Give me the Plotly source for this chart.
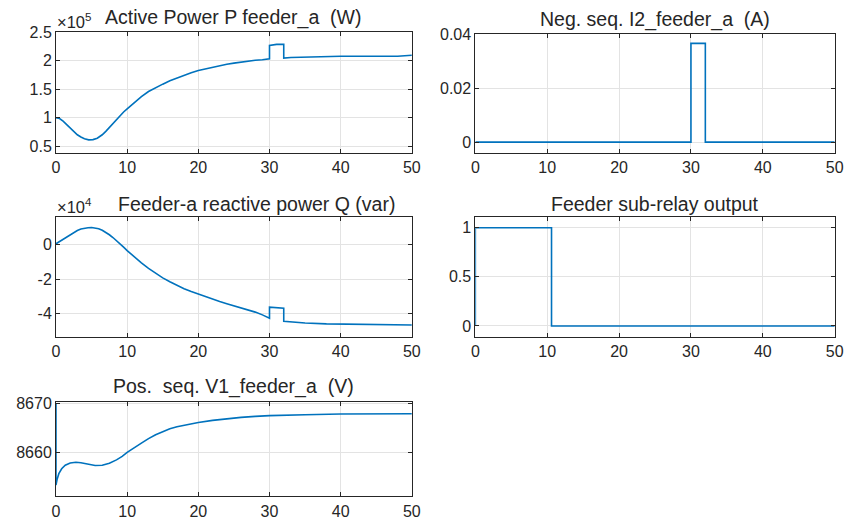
import plotly.graph_objects as go

W, H = 847, 522

# ---------------- data ----------------
t_P = [0, 0.5, 1, 1.5, 2, 2.5, 3, 3.5, 4, 4.6, 5.2, 5.8, 6.5, 7, 7.5, 8, 8.5, 9, 9.5, 10, 11, 12, 13, 14,
       15, 16, 17, 18, 19, 20, 21, 22, 23, 24, 25, 26, 27, 28, 29, 30,
       30, 31, 32, 32, 33, 36, 40, 45, 48, 50]
P_W = [100000, 98500, 94000, 88000, 81000, 75500, 70000, 66000, 63000, 61000, 61500, 64000, 70000, 76000,
       83000, 90000, 97000, 104000, 110000, 115500, 127000, 137000, 146000, 153000, 159000, 165000, 170000,
       174500, 179000, 183000, 186000, 189000, 191500, 194000, 196000, 198000, 199500, 201000, 202000, 203500,
       227000, 229000, 229000, 205000, 206000, 207000, 208000, 208000, 208000, 210000]

t_I2 = [0, 30, 30, 32, 32, 50]
I2_A = [0, 0, 0.0365, 0.0365, 0, 0]

t_Q = [0, 0.5, 1, 1.5, 2, 2.5, 3, 3.5, 4, 4.5, 5, 5.5, 6, 6.5, 7, 7.5, 8, 8.5, 9, 9.5, 10, 11, 12, 13, 14,
       15, 16, 17, 18, 19, 20, 21, 22, 23, 24, 25, 26, 27, 28, 29, 30,
       30, 31, 32, 32, 35, 38, 42, 45, 50]
Q_var = [500, 1800, 3200, 4600, 6000, 7200, 8200, 9000, 9500, 9800, 9900, 9700, 9200, 8300, 7100, 5700, 4100,
         2400, 500, -1500, -3500, -7200, -10600, -13800, -16700, -19300, -21600, -23700, -25600, -27300,
         -28800, -30300, -31700, -33000, -34300, -35500, -36700, -37900, -39200, -40800, -42800,
         -36300, -36600, -37000, -44500, -45500, -46000, -46300, -46600, -46700]

t_relay = [0, 0, 10.6, 10.6, 50]
relay_out = [0, 1, 1, 0, 0]

t_V1 = [0, 0, 0.15, 0.4, 0.8, 1.3, 2, 2.8, 3.5, 4.5, 5.5, 6.5, 7.5, 8.5, 9.3, 10, 11, 12, 13, 14, 15, 16,
        17, 18, 19, 20, 22, 24, 26, 28, 30, 35, 40, 50]
V1_V = [8669.8, 8653.4, 8654.5, 8655.7, 8656.7, 8657.4, 8657.85, 8658.0, 8657.9, 8657.6, 8657.35, 8657.4,
        8657.8, 8658.5, 8659.2, 8660.0, 8661.0, 8661.9, 8662.8, 8663.6, 8664.2, 8664.8, 8665.2, 8665.5,
        8665.8, 8666.05, 8666.5, 8666.85, 8667.1, 8667.3, 8667.45, 8667.65, 8667.8, 8667.85]

x_ticks = [0, 10, 20, 30, 40, 50]
P_ticks = [50000, 100000, 150000, 200000, 250000]
P_ticktext = ["0.5", "1", "1.5", "2", "2.5"]
I2_ticks = [0, 0.02, 0.04]
I2_ticktext = ["0", "0.02", "0.04"]
Q_ticks = [-40000, -20000, 0]
Q_ticktext = ["-4", "-2", "0"]
relay_ticks = [0, 0.5, 1]
relay_ticktext = ["0", "0.5", "1"]
V1_ticks = [8660, 8670]
V1_ticktext = ["8660", "8670"]

titles = ["Active Power P feeder_a  (W)", "Neg. seq. I2_feeder_a  (A)",
          "Feeder-a reactive power Q (var)", "Feeder sub-relay output",
          "Pos.  seq. V1_feeder_a  (V)"]

# ---------------- layout helpers ----------------
FONT = "Liberation Sans, Arial, Helvetica, sans-serif"
TXT = "#262626"
LINE = "#0072BD"
GRID = "#e3e3e3"

# compensation for the observed placement of the drawing in the photographed page
SC, OX, OY = 0.985, 4.0, 7.5


def fx(px):
    return ((px - OX) / SC) / W


def fy(py):
    return 1 - ((py - OY) / SC) / H


panels = [
    dict(x=(56, 412), y=(32, 153), t=t_P, v=P_W, yr=[37600, 250000], tv=P_ticks, tt=P_ticktext,
         title_xy=(234, 17)),
    dict(x=(475.5, 835), y=(33.5, 153), t=t_I2, v=I2_A, yr=[-0.0041, 0.04], tv=I2_ticks, tt=I2_ticktext,
         title_xy=(655, 19)),
    dict(x=(56, 412), y=(217, 337), t=t_Q, v=Q_var, yr=[-53500, 16000], tv=Q_ticks, tt=Q_ticktext,
         title_xy=(257, 204)),
    dict(x=(475.5, 835), y=(217, 337), t=t_relay, v=relay_out, yr=[-0.11, 1.11], tv=relay_ticks,
         tt=relay_ticktext, title_xy=(655, 204)),
    dict(x=(56, 412), y=(402, 497), t=t_V1, v=V1_V, yr=[8651.1, 8670.3], tv=V1_ticks, tt=V1_ticktext,
         title_xy=(234, 387)),
]

fig = go.Figure()
annotations = []
layout = {}
for i, p in enumerate(panels, start=1):
    xa = "xaxis" if i == 1 else f"xaxis{i}"
    ya = "yaxis" if i == 1 else f"yaxis{i}"
    xref = "x" if i == 1 else f"x{i}"
    yref = "y" if i == 1 else f"y{i}"
    fig.add_trace(go.Scatter(x=p["t"], y=p["v"], mode="lines", xaxis=xref, yaxis=yref,
                             line=dict(color=LINE, width=1.6), showlegend=False, hoverinfo="skip"))
    common = dict(showline=True, linecolor=TXT, linewidth=1, mirror="ticks", ticks="inside",
                  ticklen=4, tickcolor=TXT, showgrid=True, gridcolor=GRID, gridwidth=1,
                  zeroline=False, tickfont=dict(family=FONT, size=16, color=TXT))
    layout[xa] = dict(domain=[fx(p["x"][0]), fx(p["x"][1])], range=[0, 50], tickvals=x_ticks,
                      ticktext=[str(v) for v in x_ticks], anchor=yref, **common)
    layout[ya] = dict(domain=[fy(p["y"][1]), fy(p["y"][0])], range=p["yr"], tickvals=p["tv"],
                      ticktext=p["tt"], anchor=xref, **common)
    annotations.append(dict(text=titles[i - 1], xref="paper", yref="paper",
                            x=fx(p["title_xy"][0]), y=fy(p["title_xy"][1]),
                            xanchor="center", yanchor="middle", showarrow=False,
                            font=dict(family=FONT, size=19.5, color=TXT)))

# exponent labels
annotations.append(dict(text="\u00d710<sup>5</sup>", xref="paper", yref="paper", x=fx(55), y=fy(21),
                        xanchor="left", yanchor="middle", showarrow=False,
                        font=dict(family=FONT, size=16.5, color=TXT)))
annotations.append(dict(text="\u00d710<sup>4</sup>", xref="paper", yref="paper", x=fx(55), y=fy(206),
                        xanchor="left", yanchor="middle", showarrow=False,
                        font=dict(family=FONT, size=16.5, color=TXT)))

fig.update_layout(width=W, height=H, margin=dict(l=0, r=0, t=0, b=0),
                  paper_bgcolor="white", plot_bgcolor="white",
                  annotations=annotations, **layout)

fig.write_html("out.html", config={"displayModeBar": False},
               post_script="document.body.style.margin='0';document.body.style.overflow='hidden';")
